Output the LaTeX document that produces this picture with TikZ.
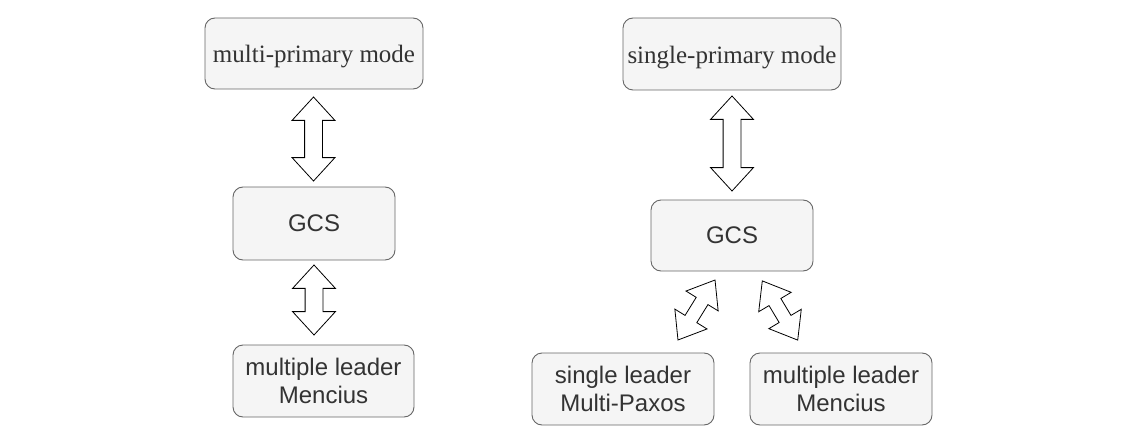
\documentclass[tikz,border=0pt]{standalone}
\usepackage{fontspec}
\setmainfont{Liberation Serif}
\setsansfont{Liberation Sans}
\usetikzlibrary{shapes.arrows}
\definecolor{boxfill}{HTML}{F5F5F5}
\definecolor{boxline}{HTML}{666666}
\definecolor{txt}{HTML}{333333}
\tikzset{
  box/.style={draw=boxline, fill=boxfill, rounded corners=10pt, line width=0.9pt,
    inner sep=0pt, text=txt, align=center},
  serifbox/.style={box, font=\fontsize{25}{29}\selectfont\rmfamily,
    text height=19pt, text depth=0pt},
  sansbox/.style={box, font=\fontsize{24}{28}\selectfont\sffamily},
  darrow/.style={double arrow, draw=black, fill=white, line width=0.8pt,
    inner xsep=0pt, inner ysep=8.5pt, minimum width=42pt,
    double arrow head extend=12.5pt, double arrow tip angle=85},
  sdarrow/.style={double arrow, draw=black, fill=white, line width=0.8pt,
    inner xsep=0pt, inner ysep=6.5pt, minimum width=37pt,
    double arrow head extend=12pt, double arrow tip angle=75},
}
\begin{document}
\begin{tikzpicture}[x=1pt,y=-1pt]
\useasboundingbox (0,0) rectangle (1129,433);
% left column
\node[serifbox, minimum width=218pt, minimum height=71pt] (mpm) at (314,53.5) {multi-primary mode};
\node[sansbox, minimum width=162pt, minimum height=73pt] (gcsl) at (314,223.5) {GCS};
\node[sansbox, minimum width=181pt, minimum height=72pt] (mlml) at (323.5,381) {multiple leader\\Mencius};
% right column
\node[serifbox, minimum width=218pt, minimum height=72pt] (spm) at (732,54) {single-primary mode};
\node[sansbox, minimum width=162pt, minimum height=71pt] (gcsr) at (732,235.5) {GCS};
\node[sansbox, minimum width=182pt, minimum height=72pt] (slmp) at (623,389) {single leader\\Multi-Paxos};
\node[sansbox, minimum width=182pt, minimum height=72pt] (mlmr) at (841,389) {multiple leader\\Mencius};
% arrows
\node[darrow, minimum height=84pt, rotate=90] (a1) at (313.5,139) {};
\node[darrow, minimum height=70pt, rotate=90] (a2) at (314,300) {};
\node[darrow, minimum height=95pt, rotate=90] (a3) at (732,143.5) {};
\node[sdarrow, minimum height=70.5pt, rotate=58.3] (a4) at (696.5,310) {};
\node[sdarrow, minimum height=69pt, rotate=120.9] (a5) at (780,310.5) {};
\end{tikzpicture}
\end{document}
